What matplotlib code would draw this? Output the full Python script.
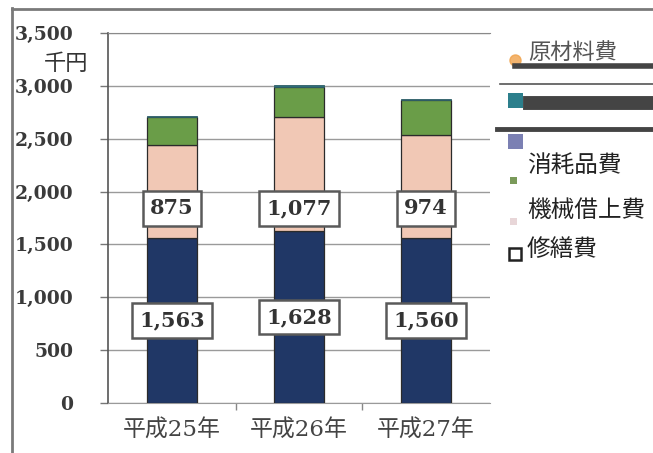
import matplotlib
matplotlib.use("Agg")
import matplotlib.pyplot as plt
from matplotlib.patches import Rectangle
from matplotlib.lines import Line2D
import numpy as np

# ---- data (千円) ----
years = ["平成25年", "平成26年", "平成27年"]
repair = [1563, 1628, 1560]          # 修繕費
machine = [875, 1077, 974]           # 機械借上費
supplies = [265, 280, 330]           # 消耗品費
other = [15, 20, 15]                 # 上段の小項目
y_ticks = [0, 500, 1000, 1500, 2000, 2500, 3000, 3500]
y_tick_labels = ["0", "500", "1,000", "1,500", "2,000", "2,500", "3,000", "3,500"]

c_navy = "#203766"
c_pink = "#f1c8b5"
c_green = "#6a9d48"
c_teal = "#2c7f8c"
c_purple = "#7b80b3"
c_orange = "#f0a24a"

W, H = 653, 453
fig = plt.figure(figsize=(W / 100, H / 100), dpi=100)

def fx(px):
    return px / W

def fy(py):
    return 1 - py / H

ax = fig.add_axes([fx(108), fy(403), fx(490) - fx(108), fy(33) - fy(403)])

x = np.arange(len(years))
bw = 0.39
edge = dict(edgecolor="#2b2b2b", linewidth=0.9)
b0 = np.zeros(len(years))
ax.bar(x, repair, bw, bottom=b0, color=c_navy, **edge, zorder=3)
b1 = b0 + np.array(repair)
ax.bar(x, machine, bw, bottom=b1, color=c_pink, **edge, zorder=3)
b2 = b1 + np.array(machine)
ax.bar(x, supplies, bw, bottom=b2, color=c_green, **edge, zorder=3)
b3 = b2 + np.array(supplies)
ax.bar(x, other, bw, bottom=b3, color="#2f6d78", edgecolor="#2f5f68", linewidth=0.6, zorder=3)

serif = ["DejaVu Serif"]
box = dict(boxstyle="square,pad=0.35", facecolor="white", edgecolor="#5a5a5a", linewidth=1.8)
for i in range(len(years)):
    ax.text(x[i], repair[i] / 2, f"{repair[i]:,}", ha="center", va="center",
            fontsize=15, fontweight="bold", family=serif, color="#333333",
            bbox=box, zorder=5)
    ax.text(x[i], 1840, f"{machine[i]:,}", ha="center", va="center",
            fontsize=15, fontweight="bold", family=serif, color="#333333",
            bbox=box, zorder=5)

ax.set_xlim(-0.504, 2.504)
ax.set_ylim(0, 3500)
ax.set_yticks(y_ticks)
ax.set_yticklabels(y_tick_labels, family=serif, fontweight="bold", fontsize=13.5, color="#3a3a3a")
ax.tick_params(axis="y", length=6, width=1, color="#777777", pad=19)
ax.set_xticks(x)
ax.set_xticklabels(years, family=["DejaVu Serif", "Noto Sans CJK JP"], fontsize=16.5, color="#444444")
ax.set_xticks([0.5, 1.5], minor=True)
ax.tick_params(axis="x", which="major", length=0, pad=12)
ax.tick_params(axis="x", which="minor", length=5, width=1, color="#888888")

ax.grid(axis="y", color="#9a9a9a", linewidth=1.0, zorder=0)
ax.spines["right"].set_visible(False)
ax.spines["top"].set_color("#8a8a8a")
ax.spines["top"].set_linestyle((0, (6, 1)))
ax.spines["left"].set_color("#555555")
ax.spines["left"].set_linewidth(1.2)
ax.spines["bottom"].set_color("#9a9a9a")

fig.text(fx(66), fy(64), "千円", family=["Noto Sans CJK JP"], fontsize=16,
         ha="center", va="center", color="#333333")

# outer frame
fig.add_artist(Line2D([fx(12), fx(12)], [fy(8), fy(453)], color="#7a7a7a", linewidth=2))
fig.add_artist(Line2D([fx(12), fx(653)], [fy(9), fy(9)], color="#7a7a7a", linewidth=2))

# legend
jp = ["Noto Sans CJK JP"]
def sq(px, py, size, color, fill=True):
    fig.add_artist(Rectangle((fx(px), fy(py + size)), size / W, size / H,
                             facecolor=color if fill else "none",
                             edgecolor=color if fill else "#222222",
                             linewidth=0 if fill else 1.8, transform=fig.transFigure))

fig.add_artist(Line2D([fx(515)], [fy(60)], marker="o", markersize=8,
                      color=c_orange, alpha=0.8, linestyle="none"))
fig.text(fx(528), fy(52), "原材料費", family=jp, fontsize=16, ha="left", va="center", color="#555555")
fig.add_artist(Line2D([fx(515), fx(653)], [fy(66), fy(66)], color="#444444", linewidth=4))
fig.add_artist(Line2D([fx(500), fx(653)], [fy(84), fy(84)], color="#555555", linewidth=1.2))
sq(508, 93, 15, c_teal)
fig.add_artist(Line2D([fx(530), fx(653)], [fy(103), fy(103)], color="#444444", linewidth=10))
fig.add_artist(Line2D([fx(497), fx(653)], [fy(129), fy(129)], color="#444444", linewidth=3.5))
sq(508, 134, 15, c_purple)

fig.text(fx(527), fy(166), "消耗品費", family=jp, fontsize=17, ha="left", va="center", color="#222222")
sq(510, 177, 7, "#7a9a5a")
fig.text(fx(527), fy(211), "機械借上費", family=jp, fontsize=17, ha="left", va="center", color="#222222")
sq(510, 218, 7, "#e8d6d8")
fig.text(fx(527), fy(249), "修繕費", family=jp, fontsize=17, ha="left", va="center", color="#222222")
sq(509, 248, 12, "#222222", fill=False)

fig.savefig("out.png", dpi=100)
